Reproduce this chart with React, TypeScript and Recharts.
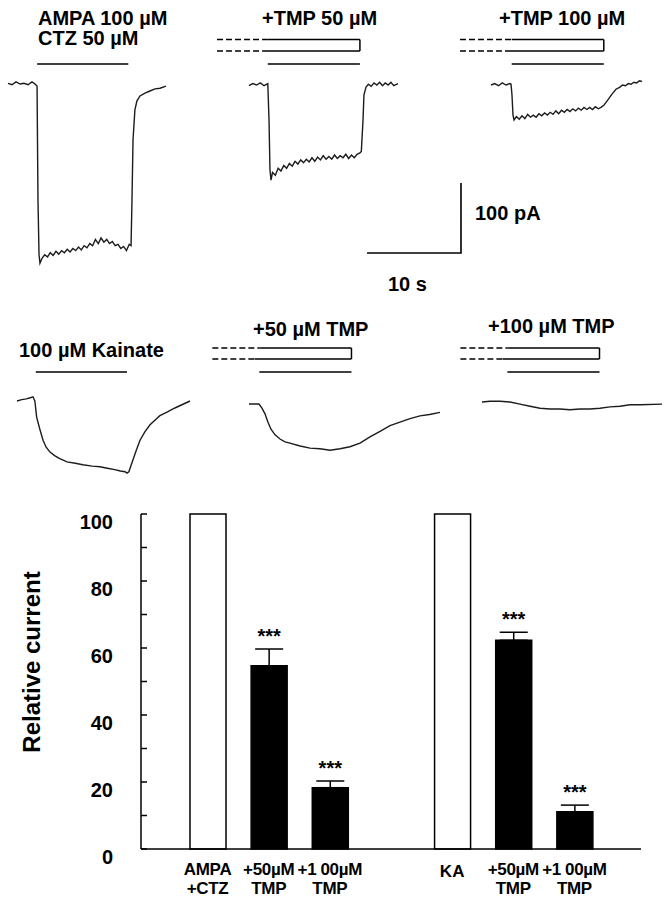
import React from 'react';
import {
  LineChart,
  Line,
  XAxis,
  YAxis,
  ReferenceLine,
  BarChart,
  Bar,
  Cell,
  ErrorBar,
  LabelList,
} from 'recharts';

const FONT = '"Liberation Sans", Arial, Helvetica, sans-serif';

// Recording scale (from the scale bar: 10 s and 100 pA)
const PX_PER_S = 9.4;
const PX_PER_PA = 0.7;
const scaleT = [0, 10, 10];
const scaleI = [0, 0, 100];

// ---- Traces: time (s) and current (pA, relative to baseline) ----
const ampaT = [0, 0.43, 0.85, 1.28, 1.7, 2.13, 2.55, 2.87, 3.09, 3.19, 3.3, 3.4, 3.62, 3.9, 4.2, 4.5, 4.8, 5.1, 5.4, 5.7, 6.0, 6.3, 6.6, 6.9, 7.2, 7.5, 7.8, 8.1, 8.4, 8.7, 9.0, 9.3, 9.6, 9.9, 10.2, 10.5, 10.8, 11.1, 11.4, 11.7, 12.0, 12.3, 12.6, 12.9, 13.09, 13.19, 13.3, 13.5, 13.72, 14.04, 14.57, 15.1, 15.64, 16.17, 16.8];
const ampaI = [1, -1, 3, 0, 1, -1, 3, 0, -3, -166, -244, -256, -249, -244, -247, -241, -245, -239, -243, -238, -241, -236, -240, -235, -238, -233, -237, -231, -234, -228, -231, -222, -228, -220, -226, -222, -228, -225, -231, -229, -235, -232, -238, -229, -231, -166, -80, -37, -24, -17, -13, -10, -7, -6, -3];

const tmp50T = [0, 0.4, 0.8, 1.2, 1.6, 2.0, 2.13, 2.23, 2.34, 2.5, 2.8, 3.1, 3.4, 3.7, 4.0, 4.3, 4.6, 4.9, 5.2, 5.5, 5.8, 6.1, 6.4, 6.7, 7.0, 7.3, 7.6, 7.9, 8.2, 8.5, 8.8, 9.1, 9.4, 9.7, 10.0, 10.3, 10.6, 10.9, 11.2, 11.5, 11.8, 11.95, 12.13, 12.23, 12.45, 12.7, 13.0, 13.3, 13.6, 13.9, 14.2, 14.5, 14.8, 15.1, 15.4, 15.85];
const tmp50I = [-1, 2, 0, 3, -1, 2, -50, -121, -136, -125, -129, -119, -123, -115, -119, -112, -116, -109, -113, -107, -111, -106, -110, -104, -109, -103, -107, -101, -106, -102, -106, -100, -105, -101, -104, -99, -105, -100, -104, -99, -97, -95, -50, -14, -3, 1, -2, 3, 0, 4, -1, 3, 0, 4, -1, 2];

const tmp100T = [0, 0.4, 0.8, 1.2, 1.6, 2.0, 2.13, 2.23, 2.34, 2.45, 2.7, 3.0, 3.3, 3.6, 3.9, 4.2, 4.5, 4.8, 5.1, 5.4, 5.7, 6.0, 6.3, 6.6, 6.9, 7.2, 7.5, 7.8, 8.1, 8.4, 8.7, 9.0, 9.3, 9.6, 9.9, 10.2, 10.5, 10.8, 11.1, 11.4, 11.7, 12.0, 12.45, 12.87, 13.3, 13.72, 14.0, 14.3, 14.6, 14.9, 15.2, 15.5, 15.8, 16.06];
const tmp100I = [0, 2, -1, 3, 0, 2, 1, -14, -43, -50, -45, -49, -44, -48, -42, -46, -43, -46, -41, -44, -40, -43, -39, -42, -37, -41, -36, -39, -35, -38, -34, -37, -33, -36, -32, -35, -32, -35, -31, -34, -32, -29, -21, -13, -6, -3, 0, -1, 2, 1, 4, 3, 6, 5];

const kaT = [0, 0.5, 1.0, 1.5, 1.7, 1.9, 2.09, 2.4, 2.77, 3.1, 3.51, 4.0, 4.5, 5.32, 6.2, 7.0, 8.0, 8.83, 9.6, 10.4, 11.0, 11.5, 11.7, 11.9, 12.34, 12.7, 13.09, 13.6, 14.15, 14.7, 15.2, 15.96, 16.8, 17.6, 18.4];
const kaI = [0, 2, 3, 5, 6, 0, -23, -39, -56, -66, -73, -78, -82, -87, -89, -91, -93, -94, -96, -98, -100, -101, -103, -101, -84, -70, -56, -44, -34, -27, -21, -16, -10, -5, 0];

const ka50T = [0, 1.06, 1.38, 1.7, 2.02, 2.34, 2.77, 3.3, 3.83, 4.36, 5.43, 6.49, 7.55, 8.62, 9.68, 10.74, 11.81, 12.87, 13.94, 15.0, 16.06, 17.13, 18.19, 19.2, 20.32];
const ka50I = [0, 0, -6, -14, -26, -36, -44, -50, -54, -56, -60, -63, -64, -66, -64, -61, -56, -47, -39, -31, -26, -21, -17, -15, -12];

const ka100T = [0, 0.85, 1.91, 2.98, 4.04, 5.11, 6.17, 7.23, 8.3, 9.36, 10.43, 11.49, 12.55, 13.62, 14.68, 15.74, 16.81, 19.15];
const ka100I = [0, 1, 1, 0, -3, -6, -9, -10, -10, -11, -10, -10, -9, -7, -6, -4, -4, -3];

// ---- Drug application timing (s from trace start) ----
const ampaStim = { on: 3.1, off: 12.8 };
const tmp50Stim = { pre: -3.4, on: 2.0, off: 11.8 };
const tmp100Stim = { pre: -3.3, on: 2.2, off: 12.0 };
const kaStim = { on: 2.0, off: 11.7 };
const ka50Stim = { pre: -3.9, on: 1.1, off: 10.9 };
const ka100Stim = { pre: -2.3, on: 2.7, off: 12.5 };

// ---- Bar chart data ----
const categories = ['AMPA\n+CTZ', '+50µM\nTMP', '+100µM\nTMP', '', 'KA', '+50µM\nTMP', '+100µM\nTMP'];
const relativeCurrent = [100, 54.7, 18.3, null, 100, 62.3, 11.1];
const semUpper = [null, 5.0, 2.0, null, null, 2.4, 2.0];
const significance = ['', '***', '***', '', '', '***', '***'];
const yTicks = [0, 10, 20, 30, 40, 50, 60, 70, 80, 90, 100];
const yLabelTicks = [0, 20, 40, 60, 80, 100];

const zip = (t: number[], i: number[]) => t.map((tt, k) => ({ t: tt, i: i[k] }));

type Stim = { pre?: number; on: number; off: number };
type Rows = { upper: number; lower: number; cmd: number };

function TracePanel(props: {
  t: number[];
  i: number[];
  stim: Stim;
  x0: number;
  y0: number;
  left: number;
  right: number;
  top: number;
  bottom: number;
  rows: Rows;
}) {
  const { t, i, stim, x0, y0, left, right, top, bottom, rows } = props;
  const width = right - left;
  const height = bottom - top;
  const xDomain = [(left - x0) / PX_PER_S, (right - x0) / PX_PER_S];
  const yDomain = [(y0 - bottom) / PX_PER_PA, (y0 - top) / PX_PER_PA];
  const iAt = (py: number) => (y0 - py) / PX_PER_PA;
  const segs: { a: [number, number]; b: [number, number]; dash?: boolean }[] = [];
  segs.push({ a: [stim.on, rows.cmd], b: [stim.off, rows.cmd] });
  if (stim.pre !== undefined) {
    segs.push({ a: [stim.pre, rows.upper], b: [stim.on, rows.upper], dash: true });
    segs.push({ a: [stim.pre, rows.lower], b: [stim.on - 0.5, rows.lower], dash: true });
    segs.push({ a: [stim.on, rows.upper], b: [stim.off, rows.upper] });
    segs.push({ a: [stim.on - 0.5, rows.lower], b: [stim.off, rows.lower] });
    segs.push({ a: [stim.off, rows.upper], b: [stim.off, rows.lower] });
  }
  return (
    <div style={{ position: 'absolute', left, top, width, height }}>
      <LineChart width={width} height={height} data={zip(t, i)} margin={{ top: 0, right: 0, bottom: 0, left: 0 }}>
        <XAxis type="number" dataKey="t" domain={xDomain} hide allowDataOverflow />
        <YAxis type="number" domain={yDomain} hide allowDataOverflow />
        <Line
          dataKey="i"
          type="linear"
          stroke="#1c1c1c"
          strokeWidth={1.4}
          dot={false}
          isAnimationActive={false}
        />
        {segs.map((s, k) => (
          <ReferenceLine
            key={k}
            segment={[
              { x: s.a[0], y: iAt(s.a[1]) },
              { x: s.b[0], y: iAt(s.b[1]) },
            ]}
            stroke="#000"
            strokeWidth={s.dash ? 1.3 : 1.5}
            strokeDasharray={s.dash ? '6 3' : undefined}
            ifOverflow="visible"
          />
        ))}
      </LineChart>
    </div>
  );
}

function ScaleBar() {
  const left = 358, right = 472, top = 175, bottom = 262;
  const x0 = 367, y0 = 253;
  const width = right - left, height = bottom - top;
  return (
    <div style={{ position: 'absolute', left, top, width, height }}>
      <LineChart width={width} height={height} data={zip(scaleT, scaleI)} margin={{ top: 0, right: 0, bottom: 0, left: 0 }}>
        <XAxis type="number" dataKey="t" domain={[(left - x0) / PX_PER_S, (right - x0) / PX_PER_S]} hide allowDataOverflow />
        <YAxis type="number" domain={[(y0 - bottom) / PX_PER_PA, (y0 - top) / PX_PER_PA]} hide allowDataOverflow />
        <Line dataKey="i" type="linear" stroke="#000" strokeWidth={1.6} dot={false} isAnimationActive={false} />
      </LineChart>
    </div>
  );
}

const YTick = (props: any) => {
  const { x, y, payload } = props;
  const v = payload.value;
  return (
    <g>
      <line x1={x} x2={x + 6} y1={y} y2={y} stroke="#000" strokeWidth={1.5} />
      {yLabelTicks.includes(v) && (
        <text x={x - 28} y={y + 15} textAnchor="end" fontSize={20} fontWeight="bold" fontFamily={FONT} fill="#000">
          {v}
        </text>
      )}
    </g>
  );
};

const renderLine = (s: string) => {
  if (s.startsWith('+100')) {
    return (
      <>
        <tspan>+1</tspan>
        <tspan dx={4}>{s.slice(2)}</tspan>
      </>
    );
  }
  return s;
};

const XTick = (props: any) => {
  const { x, y, payload } = props;
  const lines = String(payload.value).split('\n').filter((l) => l.length);
  if (!lines.length) return null;
  if (lines.length === 1) {
    return (
      <text x={x} y={y + 28} textAnchor="middle" fontSize={17} fontWeight="bold" fontFamily={FONT} fill="#000">
        {renderLine(lines[0])}
      </text>
    );
  }
  return (
    <g>
      {lines.map((l, k) => (
        <text key={k} x={x} y={y + 26 + k * 19} textAnchor="middle" fontSize={17} fontWeight="bold" fontFamily={FONT} fill="#000" letterSpacing={-0.3}>
          {renderLine(l)}
        </text>
      ))}
    </g>
  );
};

const StarLabel = (props: any) => {
  const vb = props.viewBox ?? props;
  const index = Number(props.value);
  const s = significance[index];
  const val = relativeCurrent[index];
  if (!s || val == null) return null;
  const x = Number(vb.x);
  const y = Number(vb.y);
  const w = Number(vb.width);
  const h = Math.abs(Number(vb.height));
  const err = semUpper[index] ?? 0;
  const pxPerUnit = h / val;
  const yTop = y - err * pxPerUnit;
  return (
    <text x={x + w / 2} y={yTop - 6} textAnchor="middle" fontSize={20} fontWeight="bold" fontFamily={FONT} fill="#000">
      {s}
    </text>
  );
};

export default function App() {
  const barData = categories.map((c, k) => ({
    name: c,
    idx: k,
    value: relativeCurrent[k],
    err: semUpper[k] == null ? null : [0, semUpper[k]],
  }));
  const row1: Rows = { upper: 39.5, lower: 51, cmd: 64 };
  const row2: Rows = { upper: 348, lower: 359, cmd: 372 };
  return (
    <div style={{ position: 'absolute', left: 0, top: 0, width: 668, height: 899, background: '#fff', overflow: 'hidden' }}>
      <TracePanel t={ampaT} i={ampaI} stim={ampaStim} x0={8} y0={84} left={0} right={200} top={30} bottom={278} rows={row1} />
      <TracePanel t={tmp50T} i={tmp50I} stim={tmp50Stim} x0={249} y0={85} left={204} right={420} top={30} bottom={278} rows={row1} />
      <TracePanel t={tmp100T} i={tmp100I} stim={tmp100Stim} x0={491} y0={85} left={450} right={668} top={30} bottom={278} rows={row1} />
      <ScaleBar />
      <TracePanel t={kaT} i={kaI} stim={kaStim} x0={17} y0={401} left={0} right={205} top={340} bottom={490} rows={row2} />
      <TracePanel t={ka50T} i={ka50I} stim={ka50Stim} x0={249} y0={404} left={205} right={452} top={340} bottom={490} rows={row2} />
      <TracePanel t={ka100T} i={ka100I} stim={ka100Stim} x0={482} y0={402} left={452} right={668} top={340} bottom={490} rows={row2} />

      <div style={{ position: 'absolute', left: 0, top: 495 }}>
        <BarChart width={668} height={404} data={barData} margin={{ top: 19, right: 27, bottom: 0, left: 0 }}>
          <XAxis
            dataKey="name"
            type="category"
            height={50}
            padding={{ left: 36, right: 36 }}
            tickLine={false}
            tickSize={0}
            tickMargin={0}
            interval={0}
            axisLine={{ stroke: '#000', strokeWidth: 1.5 }}
            tick={(p: any) => <XTick {...p} />}
          />
          <YAxis
            type="number"
            domain={[0, 100]}
            ticks={yTicks}
            interval={0}
            width={141}
            tickLine={false}
            tickSize={0}
            tickMargin={0}
            axisLine={{ stroke: '#000', strokeWidth: 1.5 }}
            tick={(p: any) => <YTick {...p} />}
          />
          <Bar dataKey="value" barSize={36} stroke="#000" strokeWidth={1.5} isAnimationActive={false}>
            {barData.map((d, k) => (
              <Cell key={k} fill={d.name.includes('TMP') ? '#000' : '#fff'} />
            ))}
            <ErrorBar dataKey="err" width={14} stroke="#000" strokeWidth={1.5} direction="y" />
            <LabelList dataKey="idx" content={(p: any) => <StarLabel {...p} />} />
          </Bar>
        </BarChart>
      </div>

      <svg
        width={668}
        height={899}
        style={{ position: 'absolute', left: 0, top: 0, pointerEvents: 'none' }}
        fontFamily={FONT}
        fontWeight="bold"
        fontSize={20}
        fill="#000"
      >
        <text x={38} y={25}>AMPA 100 µM</text>
        <text x={38} y={45}>CTZ 50 µM</text>
        <text x={262} y={25}>+TMP 50 µM</text>
        <text x={499} y={25}>+TMP 100 µM</text>
        <text x={475} y={220}>100 pA</text>
        <text x={388} y={291}>10 s</text>
        <text x={19} y={357}>100 µM Kainate</text>
        <text x={253} y={336}>+50 µM TMP</text>
        <text x={488} y={333}>+100 µM TMP</text>
        <text transform="translate(40,662) rotate(-90)" textAnchor="middle" fontSize={24}>
          Relative current
        </text>
      </svg>
    </div>
  );
}
